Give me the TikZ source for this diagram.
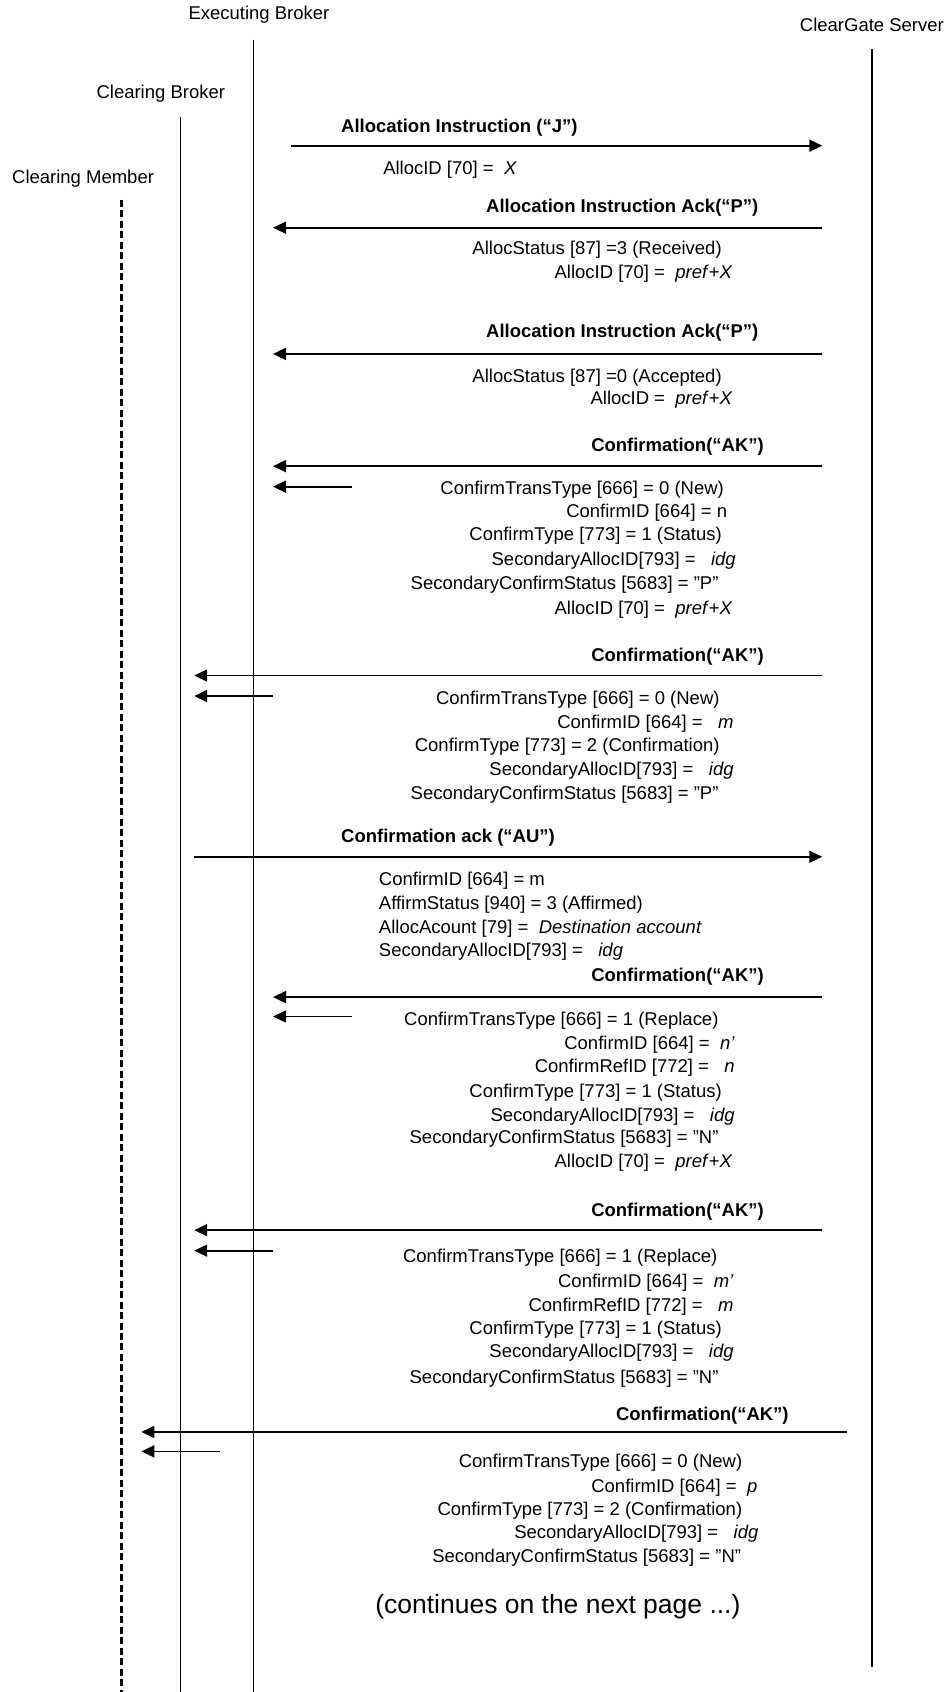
\documentclass[tikz,border=0pt]{standalone}
\usepackage{fontspec}
\setmainfont{Liberation Sans}
\usetikzlibrary{arrows.meta}
\newcommand{\basesize}{\fontsize{18.5}{22}\selectfont}
\tikzset{
  life/.style={line width=1.2pt},
  cmlife/.style={line width=3pt, dash pattern=on 7pt off 3.5pt},
  msg/.style={line width=1.7pt, -{Triangle[length=13pt,width=12pt]}},
  hdr/.style={inner sep=0pt},
  lbl/.style={inner sep=0pt, font=\basesize\bfseries},
  fr/.style={inner sep=0pt, anchor=base east},
  fl/.style={inner sep=0pt, anchor=base west},
}
\begin{document}
\begin{tikzpicture}[x=1.0797pt, y=-1.0797pt, font=\basesize]
\useasboundingbox (0,0) rectangle (879,1568);
% headers
\node[hdr] (hEB) at (240,14) {Executing Broker};
\node[hdr] (hCG) at (808,23) {ClearGate Server};
\node[hdr] (hCB) at (149,87) {Clearing Broker};
\node[hdr] (hCM) at (77,166) {Clearing Member};
% lifelines
\coordinate (eb0) at (235,37);  \coordinate (eb1) at (235,1568);
\coordinate (cg0) at (808,45);  \coordinate (cg1) at (808,1545);
\coordinate (cb0) at (167,108); \coordinate (cb1) at (167,1568);
\coordinate (cm0) at (113,185); \coordinate (cm1) at (113,1568);
\draw[life] (eb0) -- (eb1);
\draw[life] (cg0) -- (cg1);
\draw[life] (cb0) -- (cb1);
\draw[cmlife] (cm0) -- (cm1);

% Msg 1
\node[lbl, anchor=base west] (l1) at (316,123) {Allocation Instruction (“J”)};
\coordinate (a1s) at (270,135); \coordinate (a1e) at (762,135);
\draw[msg] (a1s) -- (a1e);
\node[fl] (t1a) at (355,162) {AllocID [70] = \ \textit{X}};

% Msg 2
\node[lbl, anchor=base east] (l2) at (703,197) {Allocation Instruction Ack(“P”)};
\coordinate (a2s) at (762,211); \coordinate (a2e) at (253,211);
\draw[msg] (a2s) -- (a2e);
\node[fr] (t2a) at (669,236) {AllocStatus [87] =3 (Received)};
\node[fr] (t2b) at (679,258) {AllocID [70] = \ \textit{pref}+\textit{X}};

% Msg 3
\node[lbl, anchor=base east] (l3) at (703,313) {Allocation Instruction Ack(“P”)};
\coordinate (a3s) at (762,328); \coordinate (a3e) at (253,328);
\draw[msg] (a3s) -- (a3e);
\node[fr] (t3a) at (669,354) {AllocStatus [87] =0 (Accepted)};
\node[fr] (t3b) at (679,375) {AllocID = \ \textit{pref}+\textit{X}};

% Msg 4
\node[lbl, anchor=base east] (l4) at (708,418) {Confirmation(“AK”)};
\coordinate (a4s) at (762,432); \coordinate (a4e) at (253,432);
\coordinate (b4s) at (326,451); \coordinate (b4e) at (253,451);
\draw[msg] (a4s) -- (a4e);
\draw[msg] (b4s) -- (b4e);
\node[fr] (t4a) at (671,458) {ConfirmTransType [666] = 0 (New)};
\node[fr] (t4b) at (674,480) {ConfirmID [664] = n};
\node[fr] (t4c) at (669,501) {ConfirmType [773] = 1 (Status)};
\node[fr] (t4d) at (682,524) {SecondaryAllocID[793] = \ \ \textit{idg}};
\node[fr] (t4e) at (666,546) {SecondaryConfirmStatus [5683] = ”P”};
\node[fr] (t4f) at (679,569) {AllocID [70] = \ \textit{pref}+\textit{X}};

% Msg 5
\node[lbl, anchor=base east] (l5) at (708,613) {Confirmation(“AK”)};
\coordinate (a5s) at (762,626); \coordinate (a5e) at (180,626);
\coordinate (b5s) at (253,645); \coordinate (b5e) at (180,645);
\draw[msg] (a5s) -- (a5e);
\draw[msg] (b5s) -- (b5e);
\node[fr] (t5a) at (667,653) {ConfirmTransType [666] = 0 (New)};
\node[fr] (t5b) at (680,675) {ConfirmID [664] = \ \ \textit{m}};
\node[fr] (t5c) at (667,696) {ConfirmType [773] = 2 (Confirmation)};
\node[fr] (t5d) at (680,719) {SecondaryAllocID[793] = \ \ \textit{idg}};
\node[fr] (t5e) at (666,741) {SecondaryConfirmStatus [5683] = ”P”};

% Msg 6
\node[lbl, anchor=base west] (l6) at (316,781) {Confirmation ack (“AU”)};
\coordinate (a6s) at (180,794); \coordinate (a6e) at (762,794);
\draw[msg] (a6s) -- (a6e);
\node[fl] (t6a) at (351,821) {ConfirmID [664] = m};
\node[fl] (t6b) at (351,843) {AffirmStatus [940] = 3 (Affirmed)};
\node[fl] (t6c) at (351,865) {AllocAcount [79] = \ \textit{Destination account}};
\node[fl] (t6d) at (351,886) {SecondaryAllocID[793] = \ \ \textit{idg}};

% Msg 7
\node[lbl, anchor=base east] (l7) at (708,910) {Confirmation(“AK”)};
\coordinate (a7s) at (762,924); \coordinate (a7e) at (253,924);
\coordinate (b7s) at (326,942); \coordinate (b7e) at (253,942);
\draw[msg] (a7s) -- (a7e);
\draw[msg] (b7s) -- (b7e);
\node[fr] (t7a) at (666,950) {ConfirmTransType [666] = 1 (Replace)};
\node[fr] (t7b) at (681,973) {ConfirmID [664] = \ \textit{n’}};
\node[fr] (t7c) at (681,994) {ConfirmRefID [772] = \ \ \textit{n}};
\node[fr] (t7d) at (669,1017) {ConfirmType [773] = 1 (Status)};
\node[fr] (t7e) at (681,1039) {SecondaryAllocID[793] = \ \ \textit{idg}};
\node[fr] (t7f) at (666,1060) {SecondaryConfirmStatus [5683] = ”N”};
\node[fr] (t7g) at (679,1082) {AllocID [70] = \ \textit{pref}+\textit{X}};

% Msg 8
\node[lbl, anchor=base east] (l8) at (708,1127) {Confirmation(“AK”)};
\coordinate (a8s) at (762,1140); \coordinate (a8e) at (180,1140);
\coordinate (b8s) at (253,1159); \coordinate (b8e) at (180,1159);
\draw[msg] (a8s) -- (a8e);
\draw[msg] (b8s) -- (b8e);
\node[fr] (t8a) at (665,1170) {ConfirmTransType [666] = 1 (Replace)};
\node[fr] (t8b) at (680,1193) {ConfirmID [664] = \ \textit{m’}};
\node[fr] (t8c) at (680,1215) {ConfirmRefID [772] = \ \ \textit{m}};
\node[fr] (t8d) at (669,1237) {ConfirmType [773] = 1 (Status)};
\node[fr] (t8e) at (680,1258) {SecondaryAllocID[793] = \ \ \textit{idg}};
\node[fr] (t8f) at (666,1282) {SecondaryConfirmStatus [5683] = ”N”};

% Msg 9
\node[lbl, anchor=base east] (l9) at (731,1316) {Confirmation(“AK”)};
\coordinate (a9s) at (785,1327); \coordinate (a9e) at (131,1327);
\coordinate (b9s) at (204,1345); \coordinate (b9e) at (131,1345);
\draw[msg] (a9s) -- (a9e);
\draw[msg] (b9s) -- (b9e);
\node[fr] (t9a) at (688,1360) {ConfirmTransType [666] = 0 (New)};
\node[fr] (t9b) at (702,1383) {ConfirmID [664] = \ \textit{p}};
\node[fr] (t9c) at (688,1404) {ConfirmType [773] = 2 (Confirmation)};
\node[fr] (t9d) at (703,1426) {SecondaryAllocID[793] = \ \ \textit{idg}};
\node[fr] (t9e) at (687,1448) {SecondaryConfirmStatus [5683] = ”N”};

\node[inner sep=0pt, anchor=base, font=\fontsize{26.5}{30}\selectfont] (cont) at (517,1495) {(continues on the next page ...)};
\end{tikzpicture}
\end{document}
